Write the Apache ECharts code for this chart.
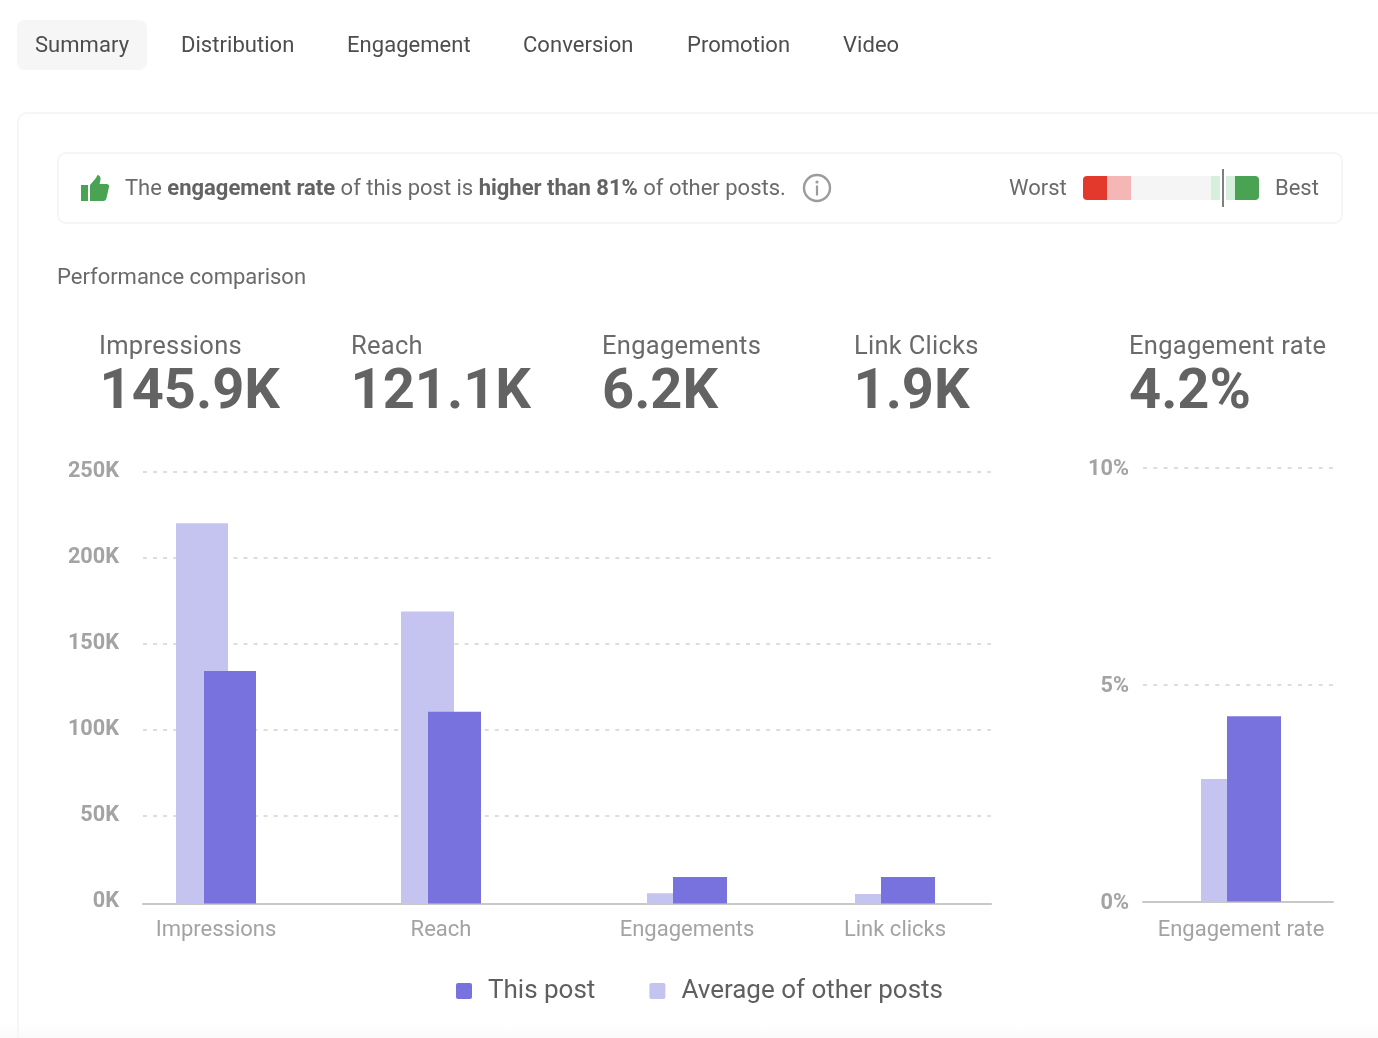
<!DOCTYPE html>
<html>
<head>
<meta charset="utf-8">
<script src="https://cdn.jsdelivr.net/npm/echarts@6/dist/echarts.min.js"></script>
<style>
html,body{margin:0;padding:0;background:#fff;width:1378px;height:1038px;overflow:hidden;font-family:Roboto,sans-serif}
#chart{position:absolute;left:0;top:0;width:1378px;height:1038px;z-index:2}
.abs{position:absolute;white-space:nowrap;z-index:3}
#fade{position:absolute;left:0;top:1024px;width:1378px;height:14px;background:linear-gradient(#fff,#fafafa);z-index:0}
#card{position:absolute;left:17px;top:112px;width:1400px;height:1000px;border:2px solid #f6f6f6;border-radius:10px;box-sizing:border-box;z-index:1}
#banner{position:absolute;left:57px;top:152px;width:1286px;height:72px;border:2px solid #f6f6f6;border-radius:9px;box-sizing:border-box;z-index:1}
#activeTab{position:absolute;left:17px;top:20px;width:130px;height:50px;background:#f6f6f6;border-radius:8px;z-index:1}
.tab{font-size:22px;color:#4d4d4d;line-height:26px;top:32px;letter-spacing:.04px}
.ban{font-size:22px;color:#6a6a6a;line-height:26px;top:175px;letter-spacing:-.01px}
.ban b{font-weight:700;color:#636363}
.kl{font-size:25.5px;color:#6a6a6a;line-height:30px;top:330px;letter-spacing:.28px}
.kv{font-size:56px;font-weight:700;color:#636363;line-height:60px;top:359px;letter-spacing:0}
</style>
</head>
<body>
<div id="fade"></div><div id="card"></div><div id="banner"></div><div id="activeTab"></div>
<div class="abs ban" style="left:125px"><span>The <b>engagement rate</b> of this post is <b>higher than 81%</b> of other posts.</span></div>
<div class="abs ban" style="left:1009px">Worst</div>
<div class="abs ban" style="left:1275px">Best</div>
<div class="abs ban" style="left:57px;top:264px">Performance comparison</div>
<svg class="abs" style="left:80px;top:174px" width="30" height="28" viewBox="0 0 30 28">
<rect x="1" y="11" width="7" height="16" fill="#4aa253"/>
<path d="M10 11 L16 4 Q17 1 18 1 Q21 2 20.5 6 L19.5 10 L27 10 Q29.5 10.5 29 13 L26.5 24 Q26 27 23 27 L10 27 Z" fill="#4aa253"/>
</svg>
<svg class="abs" style="left:802px;top:173px" width="30" height="30" viewBox="0 0 30 30">
<circle cx="15" cy="15" r="13" fill="none" stroke="#9b9b9b" stroke-width="2.4"/>
<circle cx="15" cy="9" r="1.6" fill="#9b9b9b"/>
<rect x="13.9" y="12.5" width="2.2" height="10" fill="#9b9b9b"/>
</svg>
<div id="chart"></div>
<script>
// ---- data ----
const tabs = ['Summary','Distribution','Engagement','Conversion','Promotion','Video'];
const kpiLabels = ['Impressions','Reach','Engagements','Link Clicks','Engagement rate'];
const kpiValues = ['145.9K','121.1K','6.2K','1.9K','4.2%'];
const categories = ['Impressions','Reach','Engagements','Link clicks'];
const thisPost = [134500,111000,15300,15300];
const otherPosts = [220000,169000,6000,5500];
const rateCategory = ['Engagement rate'];
const rateThisPost = [4.27];
const rateOtherPosts = [2.82];
const gaugeSegments = [3,3,10,3,3];
const gaugeMarker = [17.5];

// ---- layout (pixels) ----
const C_THIS='#7872df', C_OTHER='#c5c3f0', C_LABEL='#a3a3a3', C_GRID='#d2d2d2', C_AXIS='#c8c8c8';
const tabX=[35,181,347,523,687,843], kpiX=[99,351,602,854,1129], kvX=[99.5,350.5,602,853.5,1129];
tabs.forEach((t,i)=>add('tab',t,tabX[i]));
kpiLabels.forEach((t,i)=>{add('kl',t,kpiX[i]);add('kv',kpiValues[i],kvX[i]);});
function add(c,t,x){const d=document.createElement('div');d.className='abs '+c;d.textContent=t;d.style.left=x+'px';document.body.appendChild(d);}

const groups=[{c:216,w:52,o:28},{c:441,w:53,o:27},{c:687,w:54,o:26},{c:895,w:54,o:26}];
const grid=[],xAxis=[],yAxis=[],series=[];
const nameStyle={fontFamily:'Roboto',fontSize:22,color:C_LABEL};
const tickText={fontFamily:'Roboto',fontWeight:700,fontSize:21.7,color:'#a3a3a3'};
function mainPanel(left,width,top,height,max,interval,fmt,labelMargin,dashGap,lineOffset,labelDrop){
  const g=grid.length;
  grid.push({left,width,top,height});
  xAxis.push({gridIndex:g,type:'value',min:0,max:1,offset:lineOffset,axisLine:{show:true,onZero:false,lineStyle:{color:C_AXIS,width:2}},axisTick:{show:false},axisLabel:{show:false},splitLine:{show:false}});
  yAxis.push({gridIndex:g,type:'value',min:0,max,interval,axisLine:{show:false},axisTick:{show:false},
    axisLabel:Object.assign({formatter:v=>'{t|'+fmt(v)+'}',margin:labelMargin,
      rich:{t:Object.assign({padding:[labelDrop,0,0,0]},tickText)}},tickText),
    splitLine:{showMinLine:false,lineStyle:{color:C_GRID,width:1.6,type:[4,dashGap]}}});
}
function barPanel(center,w,o,top,height,max,cats,thisVals,otherVals,nameMargin){
  const g=grid.length, half=70;
  grid.push({left:center-half,width:half*2,top,height});
  xAxis.push({gridIndex:g,type:'category',data:cats,axisLine:{show:false},axisTick:{show:false},axisLabel:Object.assign({margin:nameMargin,interval:0},nameStyle)});
  yAxis.push({gridIndex:g,type:'value',min:0,max,show:false,splitLine:{show:false}});
  const gap=((o-w)/w*100)+'%';
  series.push({name:'Average of other posts',type:'bar',xAxisIndex:g,yAxisIndex:g,data:otherVals,barWidth:w,barGap:gap,itemStyle:{color:C_OTHER},z:3});
  series.push({name:'This post',type:'bar',xAxisIndex:g,yAxisIndex:g,data:thisVals,barWidth:w,barGap:gap,itemStyle:{color:C_THIS},z:4});
}
// left panel
mainPanel(143,848,471.5,430,250000,50000,v=>(v/1000)+'K',24,6.05,2,0);
categories.forEach((cat,i)=>barPanel(groups[i].c,groups[i].w,groups[i].o,471.5,432,250000,[cat],[thisPost[i]],[otherPosts[i]],16));
// right panel
mainPanel(1143,190,467.5,434,10,5,v=>v+'%',14,6.33,0,4);
barPanel(1241,54,26,467.5,434,10,rateCategory,rateThisPost,rateOtherPosts,18);
// percentile gauge
{
  const g=grid.length, total=gaugeSegments.reduce((a,b)=>a+b,0);
  const colors=['#e3382c','#f5b7b5','#f5f5f5','#d6f0dd','#4aa253'];
  grid.push({left:1083,width:176,top:169,height:38});
  xAxis.push({gridIndex:g,type:'value',min:0,max:total,show:false,splitLine:{show:false}});
  yAxis.push({gridIndex:g,type:'category',data:['rank'],show:false});
  gaugeSegments.forEach((v,i)=>{
    const r=i===0?[4,0,0,4]:i===gaugeSegments.length-1?[0,4,4,0]:0;
    series.push({name:'segment'+i,type:'bar',stack:'gauge',xAxisIndex:g,yAxisIndex:g,data:[v],barWidth:24,itemStyle:{color:colors[i],borderRadius:r},z:2});
  });
  const mark=(color,width,z)=>({name:'marker',type:'scatter',xAxisIndex:g,yAxisIndex:g,data:[],z,
    markLine:{silent:true,symbol:'none',animation:false,label:{show:false},lineStyle:{color,width,type:'solid'},data:[{xAxis:gaugeMarker[0]}]}});
  series.push(mark('#ffffff',6,5));
  series.push(mark('#5f5f5f',1.6,6));
}
const chart=echarts.init(document.getElementById('chart'),null,{renderer:'canvas'});
chart.setOption({
  animation:false,
  textStyle:{fontFamily:'Roboto'},
  grid,xAxis,yAxis,series,
  tooltip:{show:false},
  legend:{left:456,top:978,padding:0,itemWidth:16,itemHeight:16,itemGap:54,selectedMode:false,
    icon:'path://M2,0H14Q16,0 16,2V14Q16,16 14,16H2Q0,16 0,14V2Q0,0 2,0Z',
    textStyle:{fontFamily:'Roboto',fontSize:26,color:'#5f5f5f',padding:[0,0,0,11]},
    data:['This post','Average of other posts']}
});
</script>
</body>
</html>
